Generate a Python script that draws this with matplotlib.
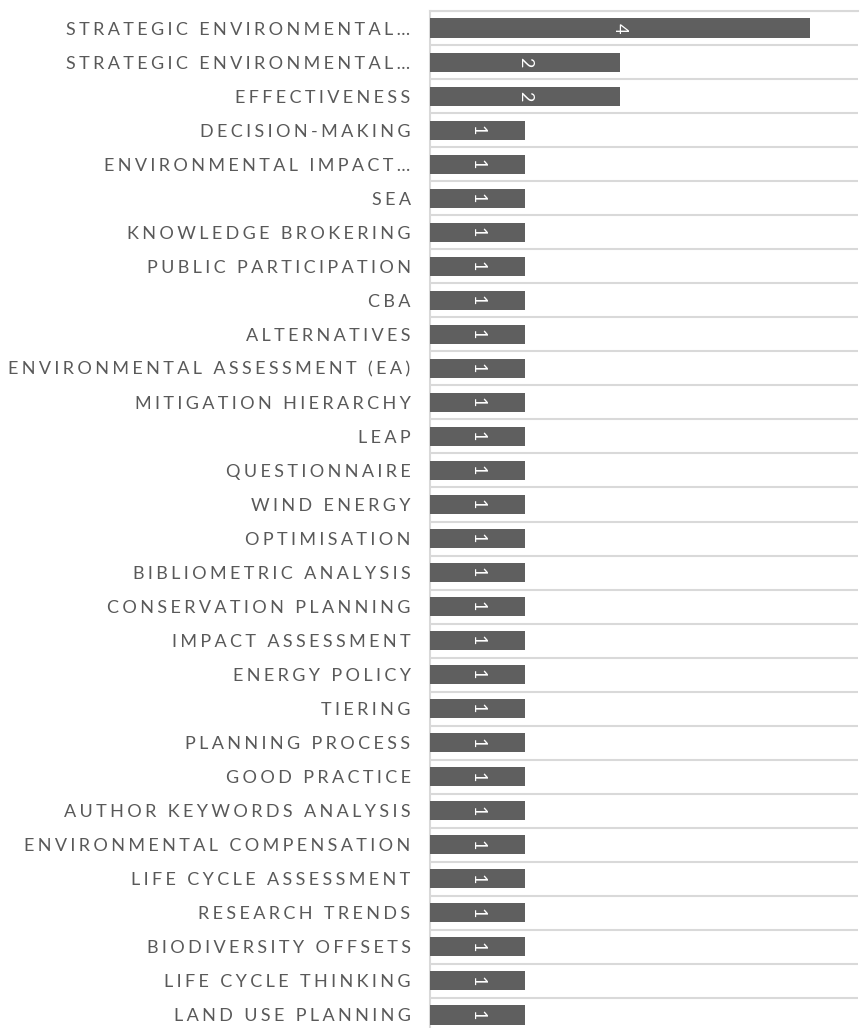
import matplotlib.pyplot as plt
import numpy as np

# keywords (top to bottom) and their counts
keywords = [
    "STRATEGIC ENVIRONMENTAL…",
    "STRATEGIC ENVIRONMENTAL…",
    "EFFECTIVENESS",
    "DECISION-MAKING",
    "ENVIRONMENTAL IMPACT…",
    "SEA",
    "KNOWLEDGE BROKERING",
    "PUBLIC PARTICIPATION",
    "CBA",
    "ALTERNATIVES",
    "ENVIRONMENTAL ASSESSMENT (EA)",
    "MITIGATION HIERARCHY",
    "LEAP",
    "QUESTIONNAIRE",
    "WIND ENERGY",
    "OPTIMISATION",
    "BIBLIOMETRIC ANALYSIS",
    "CONSERVATION PLANNING",
    "IMPACT ASSESSMENT",
    "ENERGY POLICY",
    "TIERING",
    "PLANNING PROCESS",
    "GOOD PRACTICE",
    "AUTHOR KEYWORDS ANALYSIS",
    "ENVIRONMENTAL COMPENSATION",
    "LIFE CYCLE ASSESSMENT",
    "RESEARCH TRENDS",
    "BIODIVERSITY OFFSETS",
    "LIFE CYCLE THINKING",
    "LAND USE PLANNING",
]
counts = [4, 2, 2] + [1] * 27

BAR = "#5f5f5f"
GRID = "#d9d9d9"
TEXT = "#595959"
FONT = ["Lato", "DejaVu Sans"]


def spaced(s):
    # fake letter spacing with thin + hair spaces
    return "\u2009\u200a".join(s)


W, H = 868, 1028
fig = plt.figure(figsize=(W / 100, H / 100), dpi=100)
ax = fig.add_axes([430 / W, -4 / H, 428 / W, 1021 / H])

y = np.arange(len(keywords))
bars = ax.barh(y, counts, height=0.56, color=BAR, zorder=3)

for b, v in zip(bars, counts):
    ax.text(b.get_width() / 2, b.get_y() + b.get_height() / 2, str(v),
            rotation=270, ha="center", va="center", color="white",
            fontsize=13, family=FONT, zorder=4)

ax.set_xlim(0, 4.505)
ax.set_ylim(len(keywords) - 0.5, -0.5)

ax.set_yticks(y)
ax.set_yticklabels([spaced(k) for k in keywords], family=FONT,
                   fontsize=13, color=TEXT)
ax.set_yticks(np.arange(-0.5, len(keywords), 1.0), minor=True)
ax.tick_params(axis="y", which="both", length=0, pad=14)
ax.set_xticks([])
ax.grid(True, which="minor", axis="y", color=GRID, linewidth=1.5, zorder=0)

for side in ("right", "bottom"):
    ax.spines[side].set_visible(False)
ax.spines["top"].set_color(GRID)
ax.spines["top"].set_linewidth(1.5)
ax.spines["left"].set_color(GRID)
ax.spines["left"].set_linewidth(1.5)

fig.savefig("out.png", dpi=100)
